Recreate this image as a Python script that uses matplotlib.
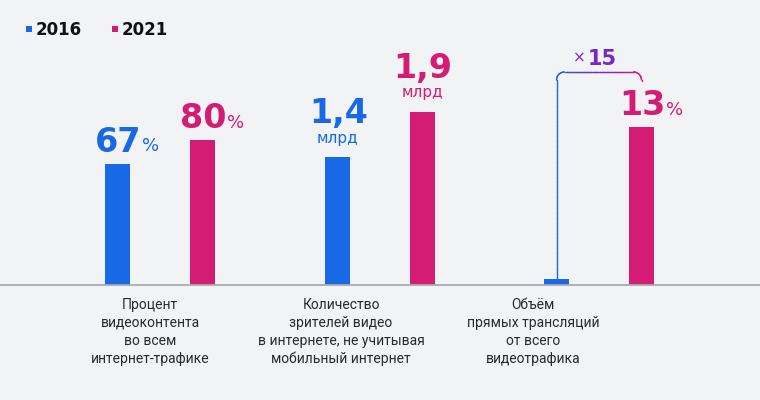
import numpy as np
import matplotlib
matplotlib.use("Agg")
import matplotlib.pyplot as plt
from matplotlib.collections import LineCollection
from matplotlib.colors import LinearSegmentedColormap
from matplotlib.patches import Rectangle

# ---- data ----
years = ["2016", "2021"]
categories = [
    "Процент\nвидеоконтента\nво всем\nинтернет-трафике",
    "Количество\nзрителей видео\nв интернете, не учитывая\nмобильный интернет",
    "Объём\nпрямых трансляций\nот всего\nвидеотрафика",
]
values_2016 = [67, 1.4, 0.5]
values_2021 = [80, 1.9, 13]
value_labels_2016 = ["67", "1,4", ""]
value_labels_2021 = ["80", "1,9", "13"]
units = ["%", "млрд", "%"]
growth_label = "15"

# ---- style ----
BG = "#f2f3f5"
BLUE = "#1769e5"
PINK = "#d51c74"
PURPLE = "#7a24cc"
TEXT = "#1e1e1e"
BASE = "#a7aab0"

W, H = 760, 400
fig = plt.figure(figsize=(W / 100, H / 100), dpi=100, facecolor=BG)

base_px = 285          # baseline position from top (px)
bar_gap = 85           # px between bar centres in a group
bar_w = 25 / bar_gap
group_centres = [160, 380, 599]
y_tops = [157.2, 3.125, 23.45]   # per-group value scale

axes = []
for i, c in enumerate(group_centres):
    ax = fig.add_axes([(c - 110) / W, (H - base_px) / H, 220 / W, base_px / H])
    ax.set_xlim(-110 / bar_gap, 110 / bar_gap)
    ax.set_ylim(0, y_tops[i])
    ax.axis("off")
    ax.patch.set_alpha(0)
    ax.bar([-0.5], [values_2016[i]], width=bar_w, color=BLUE, zorder=2)
    ax.bar([0.5], [values_2021[i]], width=bar_w, color=PINK, zorder=2)
    axes.append(ax)

num_fs = 24
pct_fs = 13
unit_fs = 11
NUM_FONT = ["DejaVu Sans"]


def value_label(ax, x, v, text, unit, color):
    if not text:
        return
    if unit == "%":
        t = ax.annotate(text, (x, v), xytext=(0.8, 8.5), textcoords="offset points",
                        ha="center", va="baseline", fontsize=num_fs, family=NUM_FONT,
                        fontweight="bold", color=color, annotation_clip=False)
        ax.annotate(unit, xy=(1, 0), xycoords=t, xytext=(0, 0.236 * (num_fs - pct_fs)),
                    textcoords="offset points", ha="left", va="bottom",
                    fontsize=pct_fs, color=color, annotation_clip=False)
    else:
        ax.annotate(unit, (x, v), xytext=(0, 10.5), textcoords="offset points",
                    ha="center", va="baseline", fontsize=unit_fs, color=color,
                    annotation_clip=False)
        ax.annotate(text, (x, v), xytext=(0.5, 24.5), textcoords="offset points",
                    ha="center", va="baseline", fontsize=num_fs, family=NUM_FONT,
                    fontweight="bold", color=color, annotation_clip=False)


for i, ax in enumerate(axes):
    value_label(ax, -0.5, values_2016[i], value_labels_2016[i], units[i], BLUE)
    value_label(ax, 0.5, values_2021[i], value_labels_2021[i], units[i], PINK)

# ---- overlay in pixel coordinates ----
ov = fig.add_axes([0, 0, 1, 1])
ov.set_xlim(0, W)
ov.set_ylim(H, 0)
ov.axis("off")
ov.patch.set_alpha(0)
ov.axhline(base_px, color=BASE, lw=1.3, zorder=5)


def to_px(ax, x, y):
    dx, dy = ax.transData.transform((x, y))
    return dx, H - dy


# bracket over third group
ax3 = axes[2]
x0, yb = to_px(ax3, -0.5, values_2016[2])
x1, yp = to_px(ax3, 0.5, values_2021[2])
ytop = yp - 55
yend = yp - 46
r = 8
pts = []
for yy in np.linspace(yb, ytop + r, 40):
    pts.append((x0, yy))
for t in np.linspace(0, np.pi / 2, 20):
    pts.append((x0 + r - r * np.cos(t), ytop + r - r * np.sin(t)))
for xx in np.linspace(x0 + r, x1 - r, 60):
    pts.append((xx, ytop))
for t in np.linspace(0, np.pi / 2, 20):
    pts.append((x1 - r + r * np.sin(t), ytop + r - r * np.cos(t)))
for yy in np.linspace(ytop + r, yend, 5):
    pts.append((x1, yy))
pts = np.array(pts)
segs = np.stack([pts[:-1], pts[1:]], axis=1)
cmap = LinearSegmentedColormap.from_list("br", [BLUE, PURPLE, PINK])
mids = (segs[:, 0, 0] + segs[:, 1, 0]) / 2
norm = (mids - x0) / (x1 - x0)
lc = LineCollection(segs, colors=cmap(norm), linewidths=1.0, capstyle="round")
ov.add_collection(lc)

xm = (x0 + x1) / 2
t15 = ov.text(xm + 3, ytop - 7, growth_label, ha="center", va="baseline",
              fontsize=15, fontweight="bold", color=PURPLE)
ov.annotate("×", xy=(0, 0), xycoords=t15, xytext=(-1, 2.5), textcoords="offset points",
            ha="right", va="bottom", fontsize=11, color=PURPLE)

# legend
for (sx, tx), col, yr in zip([(26, 36), (112, 122)], [BLUE, PINK], years):
    ov.add_patch(Rectangle((sx, 26), 6, 6, color=col, lw=0))
    ov.text(tx, 35, yr, ha="left", va="baseline", fontsize=12,
            fontweight="bold", color="#111111")

# category labels
label_x = [150, 341, 533]
for x, lab in zip(label_x, categories):
    ov.text(x, 298, lab, ha="center", va="top", fontsize=10, fontweight="normal",
            family=["Roboto", "DejaVu Sans"], color="#2a2a2a", linespacing=1.35)

fig.savefig("out.png", dpi=100, facecolor=BG)
